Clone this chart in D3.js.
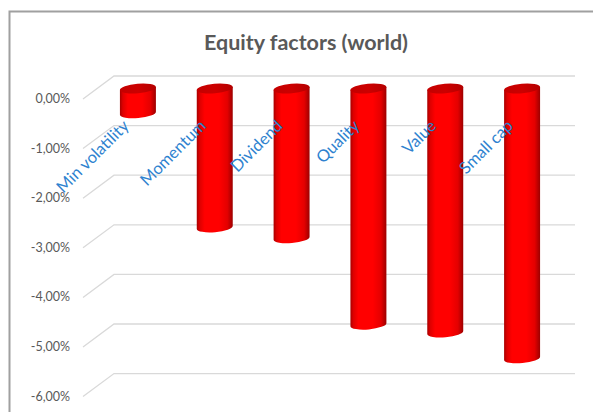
<!DOCTYPE html>
<html>
<head>
<meta charset="utf-8">
<script src="https://cdn.jsdelivr.net/npm/d3@7"></script>
<style>
  html, body { margin: 0; padding: 0; background: #fff; }
  svg { display: block; }
</style>
</head>
<body>
<svg id="chart" width="593" height="412"></svg>
<script>
// Equity factor returns, world universe (%)
const categories = ["Min volatility", "Momentum", "Dividend", "Quality", "Value", "Small cap"];
const values = [-0.50, -2.80, -3.02, -4.76, -4.92, -5.44];
const tickValues = [0, -1, -2, -3, -4, -5, -6];
const tickLabels = ["0,00%", "-1,00%", "-2,00%", "-3,00%", "-4,00%", "-5,00%", "-6,00%"];
const title = "Equity factors (world)";

const svg = d3.select("#chart");
const W = 593, H = 412;

// oblique 3D projection: back wall is shifted right/up from the front edge
const depthX = 31, depthY = -23;
const midX = depthX / 2, midY = depthY / 2 + 1;

// y on the front edge of the floor/gridline planes
const y = d3.scaleLinear().domain([0, -6]).range([99, 396.6]);
// x at mid-depth where the cylinders stand
const x = d3.scaleBand().domain(categories).range([83 + midX + 1, 544 + midX + 1]).padding(0);

// chart frame
svg.append("path")
  .attr("d", `M9.5,${H} L9.5,11.5 L${W},11.5`)
  .attr("fill", "none").attr("stroke", "#a0a0a0").attr("stroke-width", 2);

// title
svg.append("text")
  .attr("x", 306).attr("y", 50)
  .attr("text-anchor", "middle")
  .attr("font-family", "Lato, 'Open Sans', sans-serif")
  .attr("font-weight", "bold")
  .attr("font-size", 21.5)
  .attr("fill", "#595959")
  .text(title);

// gridlines: diagonal side segment + back wall line
const grid = svg.append("g").attr("fill", "none").attr("stroke", "#d9d9d9").attr("stroke-width", 1.3);
tickValues.forEach(v => {
  const yf = y(v);
  grid.append("path")
    .attr("d", `M83,${yf} L${83 + depthX},${yf + depthY} L575,${yf + depthY}`);
});

// y axis labels
svg.append("g")
  .selectAll("text")
  .data(tickValues)
  .join("text")
  .attr("x", 70).attr("y", v => y(v) + 4)
  .attr("text-anchor", "end")
  .attr("font-family", "Lato, 'Open Sans', sans-serif")
  .attr("font-size", 12.5)
  .attr("fill", "#595959")
  .text((v, i) => tickLabels[i]);

// cylinder shading
const defs = svg.append("defs");
const bodyGrad = defs.append("linearGradient").attr("id", "cylBody")
  .attr("x1", "0%").attr("x2", "100%").attr("y1", "0%").attr("y2", "0%");
[[0, "#a80000"], [0.08, "#dd0000"], [0.22, "#ff0000"], [0.62, "#ff0000"], [0.85, "#e40000"], [1, "#9c0000"]]
  .forEach(([o, c]) => bodyGrad.append("stop").attr("offset", o).attr("stop-color", c));
const capGrad = defs.append("linearGradient").attr("id", "cylCap")
  .attr("x1", "0%").attr("x2", "100%").attr("y1", "0%").attr("y2", "0%");
[[0, "#c40000"], [0.5, "#cc0000"], [1, "#b40000"]]
  .forEach(([o, c]) => capGrad.append("stop").attr("offset", o).attr("stop-color", c));

const barW = x.bandwidth() * 0.47;
const rx = barW / 2, ry = 4.8, rot = -5;
const th = rot * Math.PI / 180;
const ex = rx * Math.cos(th), ey = rx * Math.sin(th);

const bars = svg.append("g")
  .selectAll("g")
  .data(categories.map((c, i) => ({ c, v: values[i] })))
  .join("g");

bars.append("path")
  .attr("fill", "url(#cylBody)")
  .attr("d", d => {
    const cx = x(d.c) + x.bandwidth() / 2;
    const yt = y(0) + midY, yb = y(d.v) + midY;
    return `M${cx - ex},${yt - ey} L${cx - ex},${yb - ey} ` +
      `A${rx},${ry} ${rot} 0 0 ${cx + ex},${yb + ey} L${cx + ex},${yt + ey} Z`;
  });

bars.append("ellipse")
  .attr("fill", "url(#cylCap)")
  .attr("rx", rx).attr("ry", ry)
  .attr("transform", d => {
    const cx = x(d.c) + x.bandwidth() / 2;
    return `translate(${cx},${y(0) + midY}) rotate(${rot})`;
  });

// category labels, rotated
svg.append("g")
  .selectAll("text")
  .data(categories)
  .join("text")
  .attr("text-anchor", "end")
  .attr("font-family", "Lato, 'Open Sans', sans-serif")
  .attr("font-size", 16.5)
  .attr("fill", "#2e82cf")
  .attr("transform", c => `translate(${x(c) + x.bandwidth() / 2 - 8},${127}) rotate(-45)`)
  .text(c => c);
</script>
</body>
</html>
